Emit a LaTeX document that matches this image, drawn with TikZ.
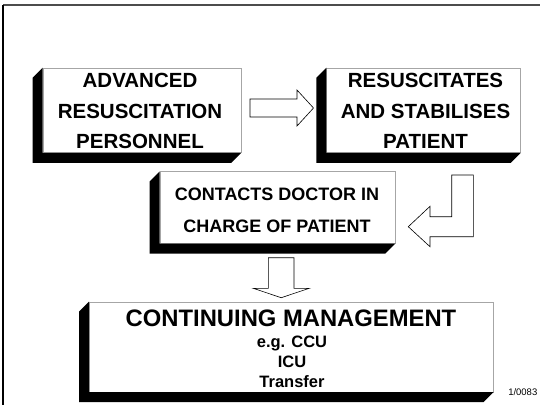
\documentclass[tikz,border=0pt]{standalone}
\usepackage{fontspec}
\setmainfont{Liberation Sans}
\usetikzlibrary{calc}
\tikzset{
  frontbox/.style={draw=gray!70, line width=0.6pt, fill=white, inner sep=0pt},
  blockarrow/.style={draw=black, line width=0.6pt, fill=white, line join=miter},
  ln/.style={anchor=base, inner sep=0pt, font=\bfseries},
}
\newcommand\xshadow[1]{%
  \fill[black] (#1.north west) -- ++(-10,10) -- ($(#1.south west)+(-10,10)$)
    -- ($(#1.south east)+(-10,10)$) -- (#1.south east) -- (#1.south west) -- cycle;}
\begin{document}
\begin{tikzpicture}[x=1pt,y=-1pt]
\useasboundingbox (0,0) rectangle (540,405);
% frame
\draw[gray!60!black, line width=1.6pt] (3,5) -- (540,5);
\draw[black, line width=1.3pt] (3,5) -- (3,405);

% boxes
\node[frontbox, minimum width=198pt, minimum height=84.5pt] (adv) at (142,110.25) {};
\xshadow{adv}
\node[frontbox, minimum width=194pt, minimum height=84.5pt] (res) at (423.6,110.25) {};
\xshadow{res}
\node[frontbox, minimum width=235pt, minimum height=71.5pt] (con) at (277.5,207.5) {};
\xshadow{con}
\node[frontbox, minimum width=404pt, minimum height=90pt] (cm) at (291.3,346.8) {};
\xshadow{cm}

% texts
\begin{scope}[every node/.append style={ln, font=\fontsize{20.5}{24}\selectfont\bfseries}]
\node (t1a) at (140,87.8) {ADVANCED};
\node (t1b) at (140,118.3) {RESUSCITATION};
\node (t1c) at (140,148.5) {PERSONNEL};
\node (t2a) at (425.5,87.8) {RESUSCITATES};
\node (t2b) at (425.5,118.3) {AND STABILISES};
\node (t2c) at (425.5,148.5) {PATIENT};
\end{scope}
\begin{scope}[every node/.append style={ln, font=\fontsize{18}{22}\selectfont\bfseries}]
\node (t3a) at (277,200) {CONTACTS DOCTOR IN};
\node (t3b) at (277,232.3) {CHARGE OF PATIENT};
\end{scope}
\node[ln, font=\fontsize{23.8}{28}\selectfont\bfseries] (t4a) at (291,326) {CONTINUING MANAGEMENT};
\begin{scope}[every node/.append style={ln, font=\fontsize{16.5}{20}\selectfont\bfseries}]
\node (t4b) at (292,347) {e.g. CCU};
\node (t4c) at (292,367.3) {ICU};
\node (t4d) at (292,387.5) {Transfer};
\end{scope}
\node[anchor=base east, inner sep=0pt, font=\fontsize{9.5}{11}\selectfont] (code) at (537.5,395.5) {1/0083};

% block arrows
\draw[blockarrow] (250,99) -- (297,99) -- (297,90) -- (313.5,108) -- (297,126)
  -- (297,117) -- (250,117) -- cycle;
\draw[blockarrow] (451.7,175) -- (473.3,175) -- (473.3,236.7) -- (430,236.7)
  -- (430,246.7) -- (408.3,226.7) -- (430,206.3) -- (430,216.7) -- (451.7,216.7) -- cycle;
\draw[blockarrow] (268.3,257.7) -- (294,257.7) -- (294,288.3) -- (309.3,288.3)
  -- (281.2,297.7) -- (253.3,288.3) -- (268.3,288.3) -- cycle;
\end{tikzpicture}
\end{document}
